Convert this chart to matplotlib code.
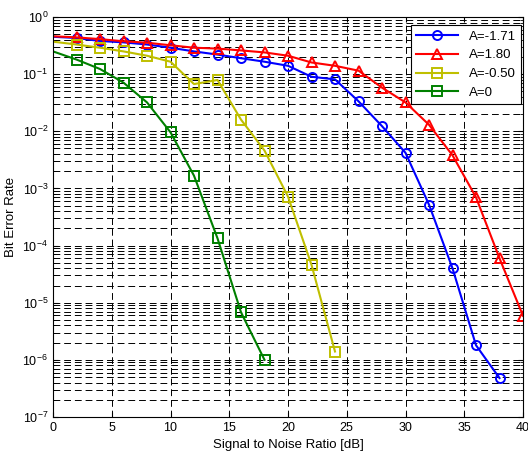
import matplotlib
matplotlib.use("Agg")
import matplotlib.pyplot as plt
from matplotlib.ticker import LogLocator, NullFormatter, MultipleLocator

plt.rcParams.update({
    "font.family": ["Liberation Sans", "DejaVu Sans"],
    "font.size": 9,
    "mathtext.default": "regular",
    "xtick.direction": "in",
    "ytick.direction": "in",
    "xtick.top": True,
    "ytick.right": True,
})

snr_blue = [0, 2, 4, 6, 8, 10, 12, 14, 16, 18, 20, 22, 24, 26, 28, 30, 32, 34, 36, 38]
ber_blue = [0.45, 0.43, 0.38, 0.36, 0.33, 0.29, 0.25, 0.22, 0.19, 0.165, 0.14, 0.09,
            0.081, 0.0335, 0.0123, 0.0042, 5.2e-4, 4.0e-5, 1.8e-6, 4.8e-7]

snr_red = [0, 2, 4, 6, 8, 10, 12, 14, 16, 18, 20, 22, 24, 26, 28, 30, 32, 34, 36, 38, 40]
ber_red = [0.46, 0.44, 0.41, 0.376, 0.355, 0.32, 0.29, 0.28, 0.26, 0.24, 0.21, 0.16,
           0.14, 0.115, 0.058, 0.032, 0.013, 0.0038, 7.0e-4, 6.0e-5, 5.9e-6]

snr_yellow = [0, 2, 4, 6, 8, 10, 12, 14, 16, 18, 20, 22, 24]
ber_yellow = [0.37, 0.33, 0.29, 0.25, 0.21, 0.165, 0.067, 0.079, 0.016, 0.0046,
              7.2e-4, 4.6e-5, 1.4e-6]

snr_green = [0, 2, 4, 6, 8, 10, 12, 14, 16, 18]
ber_green = [0.25, 0.18, 0.123, 0.071, 0.032, 0.0096, 1.67e-3, 1.34e-4, 6.8e-6, 1.0e-6]

labels = ["A=-1.71", "A=1.80", "A=-0.50", "A=0"]

fig = plt.figure(figsize=(5.28, 4.55), dpi=100)
ax = fig.add_axes([53 / 528, 1 - 417 / 455, 470 / 528, 400 / 455])

# no marker drawn on the x=0 sample, as in the original
style = dict(linewidth=1.5, markersize=6.5, markerfacecolor="none",
             markeredgewidth=1.4, markevery=slice(1, None))
ax.semilogy(snr_blue, ber_blue, "-o", color=(0, 0, 1), label=labels[0], **style)
ax.semilogy(snr_red, ber_red, "-^", color=(1, 0, 0), label=labels[1], **style)
ax.semilogy(snr_yellow, ber_yellow, "-s", color=(0.75, 0.75, 0), label=labels[2], **style)
ax.semilogy(snr_green, ber_green, "-s", color=(0, 0.5, 0), label=labels[3], **style)

ax.set_xlim(0, 40)
ax.set_ylim(1e-7, 1)
ax.xaxis.set_major_locator(MultipleLocator(5))
ax.yaxis.set_major_locator(LogLocator(base=10, numticks=10))
ax.yaxis.set_minor_locator(LogLocator(base=10, subs=range(2, 10), numticks=20))
ax.yaxis.set_minor_formatter(NullFormatter())

grid_kw = dict(color="black", linestyle=(0, (7, 4)), linewidth=0.7)
ax.grid(True, which="major", axis="both", **grid_kw)
ax.grid(True, which="minor", axis="y", **grid_kw)

ax.set_xlabel("Signal to Noise Ratio [dB]", fontsize=9.5)
ax.set_ylabel("Bit Error Rate", fontsize=9.5)

leg = ax.legend(loc="upper right", bbox_to_anchor=(1 - 2 / 470, 1 - 8 / 400),
                borderaxespad=0, fontsize=9.5, fancybox=False, framealpha=1,
                edgecolor="black", handlelength=3.2)
leg.get_frame().set_linewidth(0.8)

fig.savefig("out.png", dpi=100)
